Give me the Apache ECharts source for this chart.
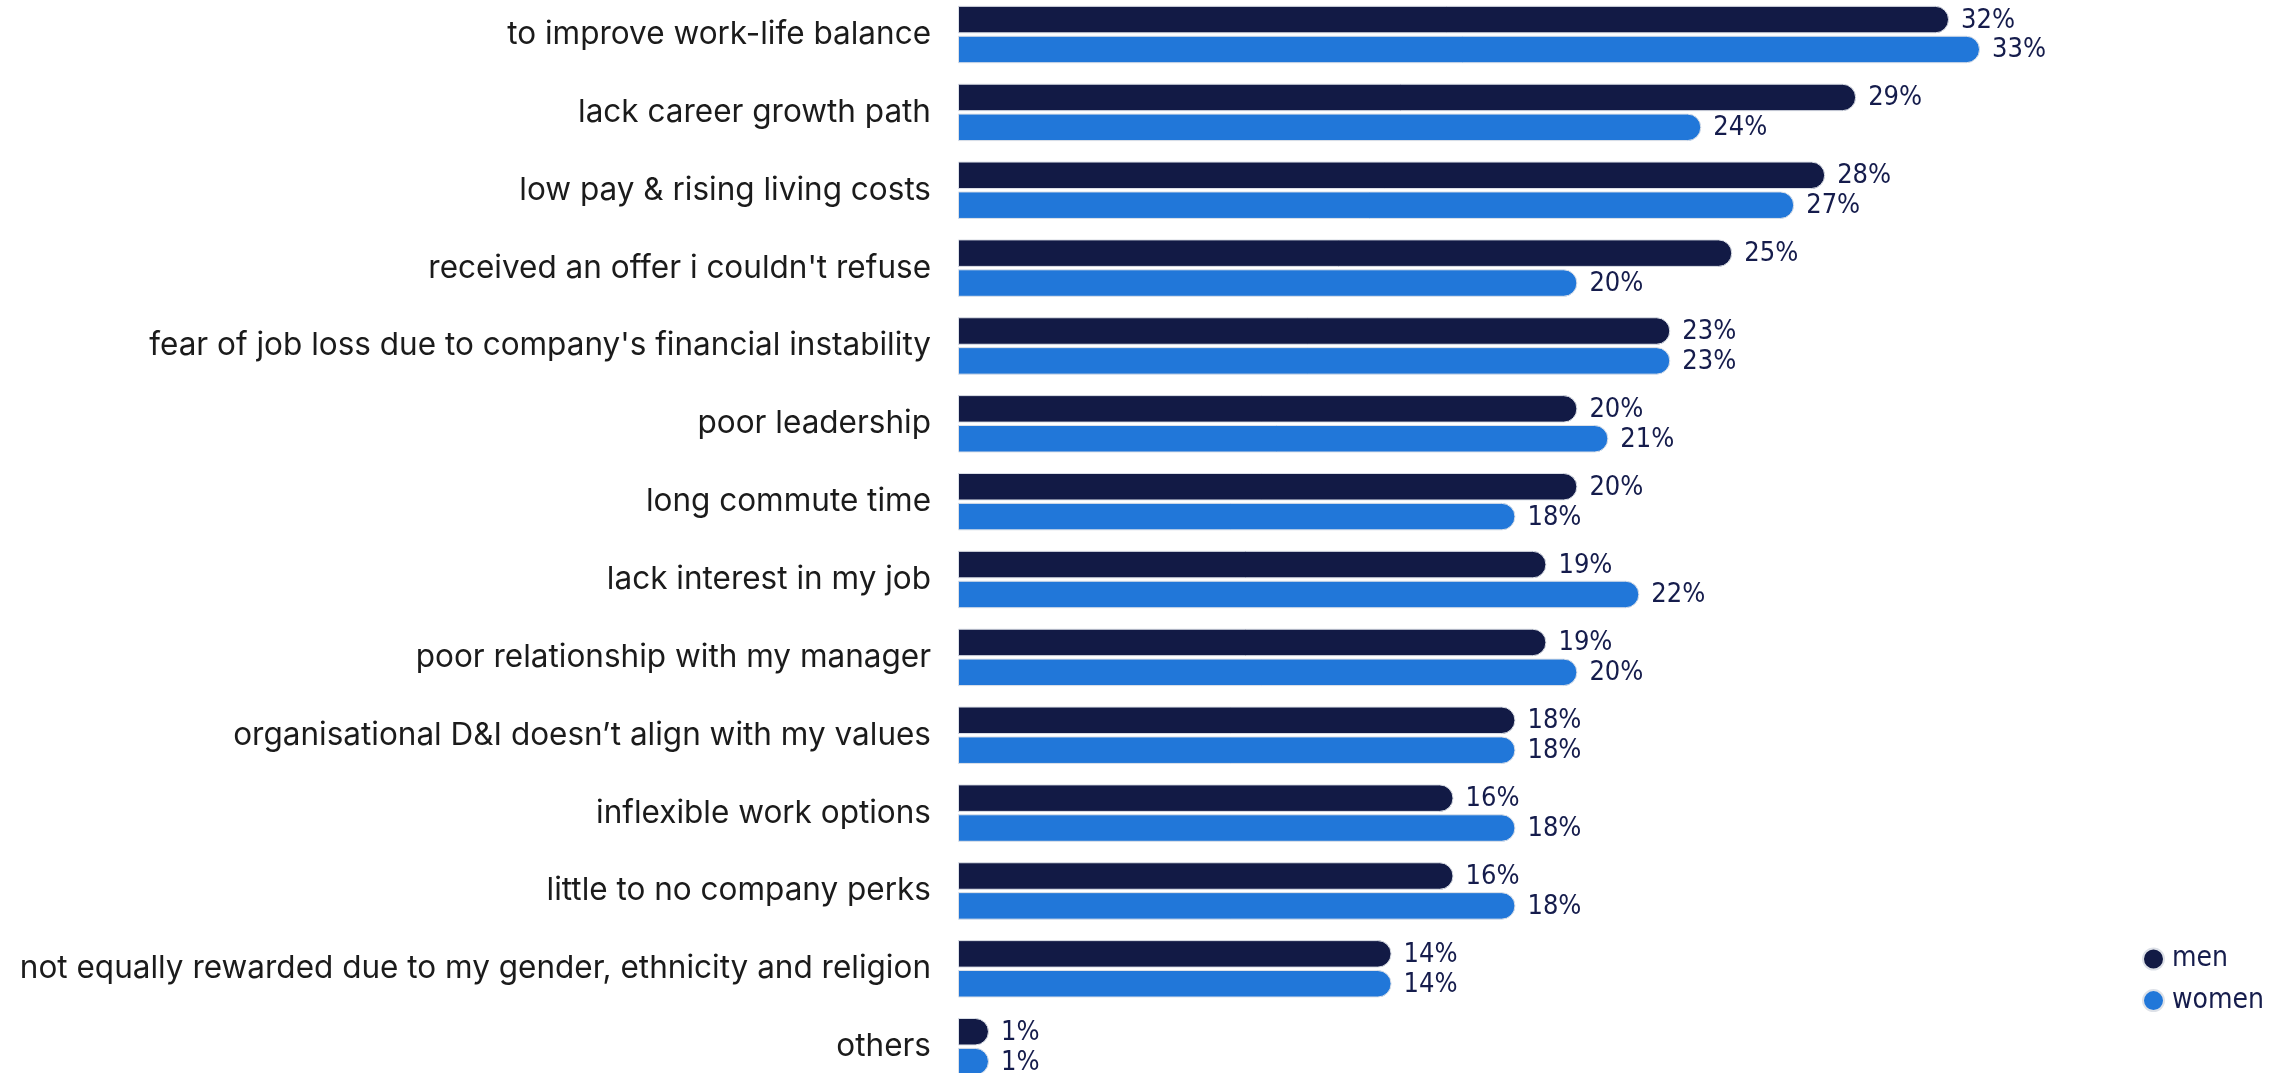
<!DOCTYPE html>
<html>
<head>
<meta charset="utf-8">
<title>Reasons for leaving by gender</title>
<script src="https://cdn.jsdelivr.net/npm/echarts@6/dist/echarts.min.js"></script>
<style>
  html, body { margin: 0; padding: 0; background: #ffffff; }
  #chart { width: 2293px; height: 1073px; }
</style>
</head>
<body>
<div id="chart"></div>
<script>
// Reasons for leaving, share of respondents (%)
const categories = [
  "to improve work-life balance",
  "lack career growth path",
  "low pay & rising living costs",
  "received an offer i couldn't refuse",
  "fear of job loss due to company's financial instability",
  "poor leadership",
  "long commute time",
  "lack interest in my job",
  "poor relationship with my manager",
  "organisational D&I doesn\u2019t align with my values",
  "inflexible work options",
  "little to no company perks",
  "not equally rewarded due to my gender, ethnicity and religion",
  "others"
];
const men   = [32, 29, 28, 25, 23, 20, 20, 19, 19, 18, 16, 16, 14, 1];
const women = [33, 24, 27, 20, 23, 21, 18, 22, 20, 18, 18, 18, 14, 1];
const seriesNames = ["men", "women"];

const MEN_COLOR = "#121a45";
const WOMEN_COLOR = "#2177d9";
const INK = "#151c4c";
const valueFont = "'DejaVu Sans Condensed', 'Liberation Sans Narrow', 'DejaVu Sans', sans-serif";

const chart = echarts.init(document.getElementById("chart"), null, { renderer: "canvas" });

function barSeries(name, values, color) {
  return {
    name: name,
    type: "bar",
    data: values,
    barWidth: 27.5,
    barGap: "8.7%",
    itemStyle: {
      color: color,
      borderRadius: [0, 14, 14, 0],
      borderColor: "#dde1e8",
      borderWidth: 1
    },
    label: {
      show: true,
      position: "right",
      distance: 12,
      offset: [0, 1],
      formatter: "{c}%",
      color: INK,
      fontFamily: valueFont,
      fontSize: 27
    },
    emphasis: { disabled: true }
  };
}

chart.setOption({
  animation: false,
  backgroundColor: "#ffffff",
  grid: {
    left: 958,
    top: -4.4,
    width: 1238.8,
    height: 1090,
    outerBoundsMode: "none",
    containLabel: false
  },
  xAxis: {
    type: "value",
    min: 0,
    max: 40,
    show: false
  },
  yAxis: {
    type: "category",
    data: categories,
    inverse: true,
    axisLine: { show: false },
    axisTick: { show: false },
    splitLine: { show: false },
    axisLabel: {
      margin: 27,
      padding: [6, 0, 0, 0],
      color: "#1b1b1b",
      fontFamily: "Inter, 'Noto Sans', sans-serif",
      fontSize: 31.5
    }
  },
  legend: {
    orient: "vertical",
    left: 2137,
    top: 940,
    icon: "circle",
    itemWidth: 21,
    itemHeight: 21,
    itemGap: 13.6,
    data: seriesNames,
    textStyle: {
      color: INK,
      fontFamily: valueFont,
      fontSize: 28,
      padding: [0, 0, 0, 3]
    }
  },
  series: [
    barSeries(seriesNames[0], men, MEN_COLOR),
    barSeries(seriesNames[1], women, WOMEN_COLOR)
  ]
});
</script>
</body>
</html>
